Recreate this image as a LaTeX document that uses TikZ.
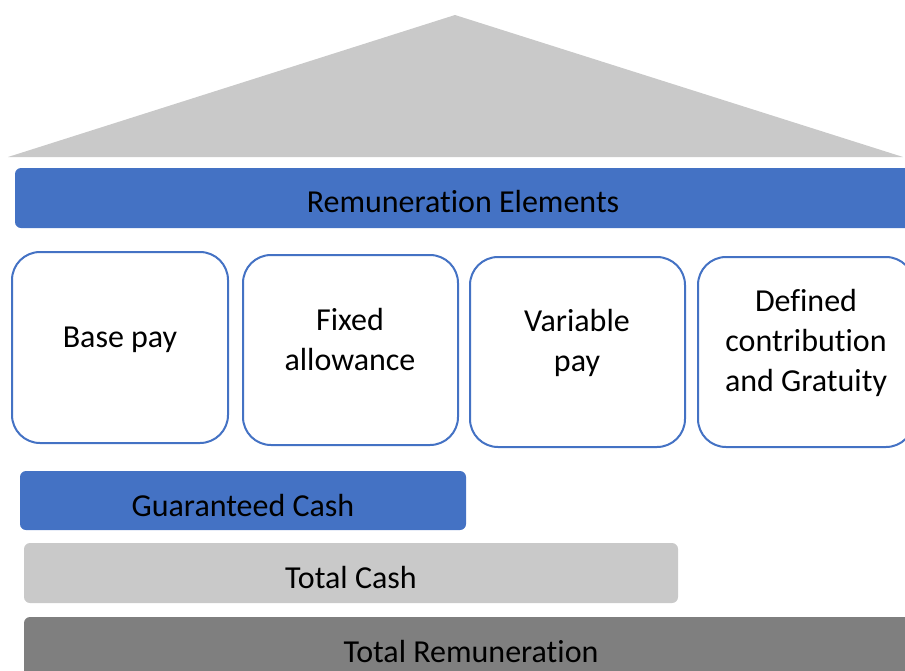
\documentclass[tikz,border=0pt]{standalone}
\usepackage{fontspec}
\setmainfont{Carlito}[RawFeature={-liga}]
\definecolor{accblue}{HTML}{4472C4}
\definecolor{roofgray}{HTML}{C9C9C9}
\definecolor{lightbar}{HTML}{C9C9C9}
\definecolor{darkbar}{HTML}{7F7F7F}
\begin{document}
\begin{tikzpicture}[x=1pt,y=-1pt,
  bar/.style={rounded corners=6pt, draw=none},
  pillar/.style={draw=accblue, line width=2pt, fill=white, rounded corners=28pt},
  lbl/.style={font=\fontsize{32}{40}\selectfont, align=center, text=black, inner sep=0pt}]
\useasboundingbox (0,0) rectangle (905,670);
\begin{scope}
\clip (0,0) rectangle (905,670);
% roof
\fill[roofgray] (8,157) -- (455,15) -- (903,157) -- cycle;
\coordinate (apex) at (455,15);
% top bar
\fill[accblue, bar] (15,168) rectangle (911,228);
\node[lbl] (rem) at (463,202) {Remuneration Elements};
% pillars
\draw[pillar] (12,252) rectangle (228,443);
\node[lbl] (base) at (120,340) {Base pay};
\draw[pillar] (243,255) rectangle (458,445);
\node[lbl] (fixed) at (350,340) {Fixed\\allowance};
\draw[pillar] (470,257) rectangle (685,447);
\node[lbl] (var) at (577,343) {Variable\\pay};
\draw[pillar] (698,257) rectangle (914,447);
\node[lbl] (dc) at (806,343) {Defined\\contribution\\and Gratuity};
% bottom bars
\fill[accblue, bar] (20,471) rectangle (466,530);
\node[lbl] (gc) at (243,505) {Guaranteed Cash};
\fill[lightbar, bar] (24,543) rectangle (678,603);
\node[lbl] (tc) at (351,577) {Total Cash};
\fill[darkbar, bar] (24,617) rectangle (918,690);
\node[lbl] (tr) at (471,651) {Total Remuneration};
\end{scope}
\end{tikzpicture}
\end{document}
